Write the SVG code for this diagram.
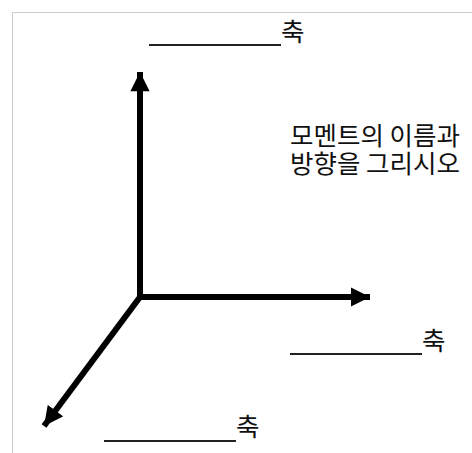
<svg xmlns="http://www.w3.org/2000/svg" width="472" height="453" viewBox="0 0 472 453">
<style>
.lbl{font-family:"Noto Sans CJK KR","Noto Sans",sans-serif;font-size:25.5px;fill:#111}
.blank{stroke:#222;stroke-width:2}
.axis{stroke:#000;stroke-width:6;fill:none}
</style>
<defs>
<marker id="ah" viewBox="0 0 10 10" refX="10" refY="5" markerWidth="3.3" markerHeight="3.2" orient="auto" markerUnits="strokeWidth">
<path d="M0,0 L10,5 L0,10 Z" fill="#000"/>
</marker>
</defs>
<rect width="472" height="453" fill="#fff"/>
<path d="M12.5,453 V12.5 H472" fill="none" stroke="#cccccc" stroke-width="1"/>
<g id="connectors">
<line class="axis" x1="140" y1="297" x2="140" y2="72" marker-end="url(#ah)"/>
<line class="axis" x1="137" y1="297" x2="370" y2="297" marker-end="url(#ah)"/>
<line class="axis" x1="140" y1="297" x2="44" y2="426" marker-end="url(#ah)"/>
</g>
<g id="label-top">
<line class="blank" x1="149" y1="45" x2="281" y2="45"/>
<text class="lbl" x="281" y="41">축</text>
</g>
<g id="label-right">
<line class="blank" x1="290" y1="354" x2="422" y2="354"/>
<text class="lbl" x="422" y="350">축</text>
</g>
<g id="label-bottom">
<line class="blank" x1="104" y1="441" x2="236" y2="441"/>
<text class="lbl" x="236" y="436">축</text>
</g>
<g id="instruction">
<text class="lbl" x="290" y="145">모멘트의 이름과<tspan x="290" y="173">방향을 그리시오</tspan></text>
</g>
</svg>
